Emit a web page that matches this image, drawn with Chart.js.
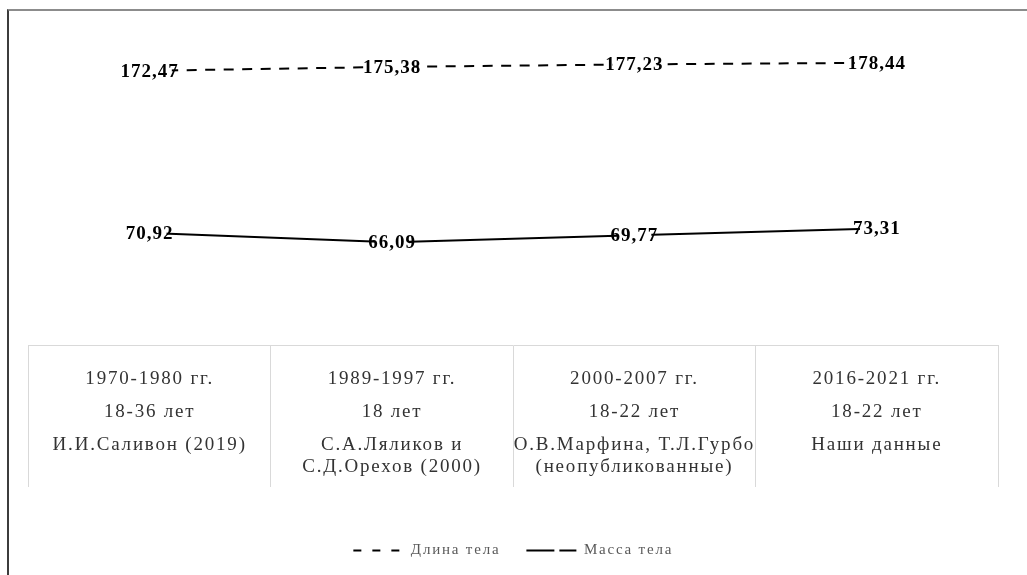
<!DOCTYPE html>
<html lang="ru">
<head>
<meta charset="utf-8">
<title>Длина и масса тела</title>
<script src="https://cdn.jsdelivr.net/npm/chart.js@4.4.1/dist/chart.umd.min.js"></script>
<style>
  html, body { margin: 0; padding: 0; background: #fff; }
  #wrap { position: relative; width: 1027px; height: 575px; overflow: hidden; }
  #frame { position: absolute; left: 7px; top: 9px; right: -5px; bottom: -5px; border-top: 2px solid #8c8c8c; border-left: 2px solid #3c3c3c; pointer-events: none; }
  canvas { position: absolute; left: 0; top: 0; }
</style>
</head>
<body>
<div id="wrap">
  <canvas id="chart" width="1027" height="575"></canvas>
  <div id="frame"></div>
</div>
<script>
// data
const periods = ['1970-1980 гг.', '1989-1997 гг.', '2000-2007 гг.', '2016-2021 гг.'];
const ages = ['18-36 лет', '18 лет', '18-22 лет', '18-22 лет'];
const authors = [
  ['И.И.Саливон (2019)'],
  ['С.А.Ляликов и', 'С.Д.Орехов (2000)'],
  ['О.В.Марфина, Т.Л.Гурбо', '(неопубликованные)'],
  ['Наши данные']
];
const bodyLength = [172.47, 175.38, 177.23, 178.44];
const bodyMass = [70.92, 66.09, 69.77, 73.31];
const seriesNames = ['Длина тела', 'Масса тела'];

const serif = '"Liberation Serif", "Times New Roman", serif';

// each column of the table under the chart: period, age, author(s)
const columnLabels = periods.map((p, i) => {
  const lines = [p, '', '', ages[i], '', '', authors[i][0]];
  if (authors[i][1]) lines.push('', authors[i][1]);
  return lines;
});

// the original text is set wide
const spacing = {
  id: 'spacing',
  beforeUpdate(chart) { chart.ctx.letterSpacing = '1.8px'; },
  beforeDraw(chart) { chart.ctx.letterSpacing = '1.8px'; }
};

// value labels sitting on the points
const valueLabels = {
  id: 'valueLabels',
  afterDatasetsDraw(chart) {
    const ctx = chart.ctx;
    ctx.save();
    ctx.letterSpacing = '1px';
    ctx.font = 'bold 19px ' + serif;
    ctx.textAlign = 'center';
    ctx.textBaseline = 'middle';
    chart.data.datasets.forEach((ds, di) => {
      chart.getDatasetMeta(di).data.forEach((pt, i) => {
        const text = ds.data[i].toFixed(2).replace('.', ',');
        const w = ctx.measureText(text).width;
        ctx.fillStyle = '#fff';
        ctx.fillRect(pt.x - w / 2 + 7, pt.y - 8, w - 14, 16);
        ctx.fillStyle = '#000';
        ctx.fillText(text, pt.x, pt.y + 1);
      });
    });
    ctx.restore();
  }
};

const legendDash = [[8, 11], [28, 5]];

new Chart(document.getElementById('chart'), {
  type: 'line',
  data: {
    labels: columnLabels,
    datasets: [
      {
        label: seriesNames[0],
        data: bodyLength,
        yAxisID: 'yLength',
        borderColor: '#000',
        borderWidth: 2,
        borderDash: [10, 8.5],
        pointRadius: 0,
        fill: false
      },
      {
        label: seriesNames[1],
        data: bodyMass,
        yAxisID: 'yMass',
        borderColor: '#000',
        borderWidth: 2,
        pointRadius: 0,
        fill: false
      }
    ]
  },
  options: {
    responsive: false,
    animation: false,
    layout: { padding: { top: 26, left: 28.5, right: 29, bottom: 7 } },
    plugins: {
      tooltip: { enabled: false },
      legend: {
        position: 'bottom',
        labels: {
          usePointStyle: true,
          pointStyle: 'line',
          pointStyleWidth: 50,
          boxWidth: 50,
          padding: 26,
          color: '#595959',
          font: { family: serif, size: 15 },
          generateLabels(chart) {
            const items = Chart.defaults.plugins.legend.labels.generateLabels(chart);
            items.forEach((item, i) => { item.lineDash = legendDash[i]; });
            return items;
          }
        }
      }
    },
    scales: {
      x: {
        offset: true,
        grid: { offset: true, drawOnChartArea: false, tickLength: 142, color: '#d9d9d9' },
        border: { color: '#d9d9d9' },
        ticks: {
          padding: -113,
          color: '#333333',
          autoSkip: false,
          maxRotation: 0,
          font: { family: serif, size: 19, lineHeight: '11px' }
        },
        afterFit(scale) { scale.height = 172; }
      },
      yLength: { display: false, min: -33, max: 206 },
      yMass: { display: false, min: 12, max: 180 }
    }
  },
  plugins: [spacing, valueLabels]
});
</script>
</body>
</html>
